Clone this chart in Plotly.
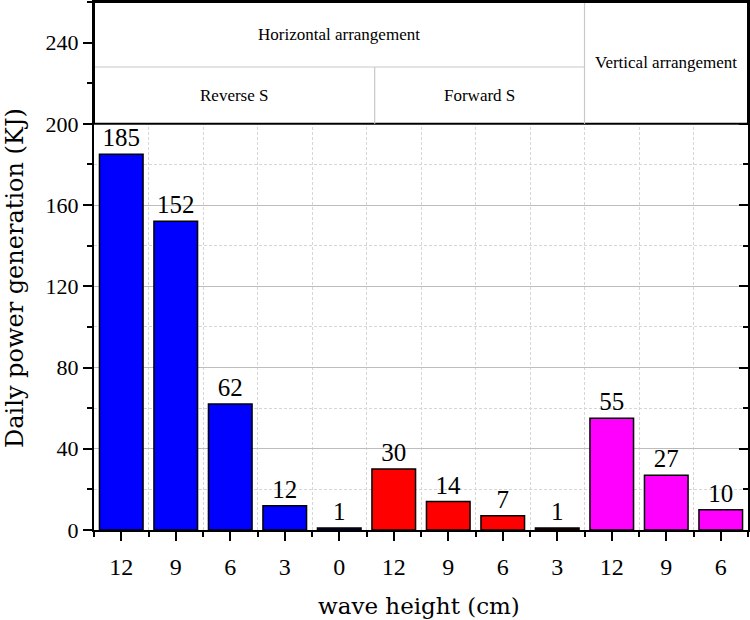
import plotly.graph_objects as go

# ---- data ----
wave_heights = ["12", "9", "6", "3", "0", "12", "9", "6", "3", "12", "9", "6"]
daily_power = [185, 152, 62, 12, 1, 30, 14, 7, 1, 55, 27, 10]
groups = ["Reverse S"] * 5 + ["Forward S"] * 4 + ["Vertical"] * 3
group_colors = {"Reverse S": "#0000FF", "Forward S": "#FF0000", "Vertical": "#FF00FF"}
y_ticks = [0, 40, 80, 120, 160, 200, 240]

positions = list(range(len(wave_heights)))
bar_colors = [group_colors[g] for g in groups]
bar_colors[4] = "#000066"
bar_colors[8] = "#330000"

SERIF = "Liberation Serif"
TITLE_FONT = "DejaVu Serif"
MINOR_DASH = "3px,2px"

fig = go.Figure()
fig.add_trace(go.Bar(
    x=positions, y=daily_power, width=0.8,
    marker=dict(color=bar_colors, line=dict(color="black", width=1.5)),
    text=[str(v) for v in daily_power], textposition="outside",
    textfont=dict(family=SERIF, size=25, color="black"),
    cliponaxis=False, showlegend=False,
))
# invisible trace for right axis
fig.add_trace(go.Scatter(x=[positions[0]], y=[0], yaxis="y2", mode="markers",
                         marker=dict(opacity=0), showlegend=False, hoverinfo="skip"))

YTOP = 260
fig.update_layout(
    width=750, height=620,
    margin=dict(l=94, r=2, t=2, b=90),
    plot_bgcolor="white", paper_bgcolor="white",
    bargap=0.2,
    xaxis=dict(
        automargin=False,
        range=[-0.5, len(positions) - 0.5],
        tickmode="array", tickvals=positions, ticktext=wave_heights,
        ticks="outside", ticklen=9, tickwidth=2, tickcolor="black",
        showgrid=False, zeroline=False,
        showline=True, linecolor="black", linewidth=2, mirror=True,
        tickfont=dict(family=SERIF, size=24, color="black"),
        ticklabelstandoff=5,
        minor=dict(tick0=-0.5, dtick=1, ticks="outside", ticklen=5, tickwidth=2,
                   tickcolor="black", showgrid=True, gridcolor="#D6D6D6",
                   griddash=MINOR_DASH, gridwidth=1),
    ),
    yaxis=dict(
        automargin=False,
        range=[0, YTOP],
        tickmode="array", tickvals=y_ticks,
        ticks="outside", ticklen=9, tickwidth=2, tickcolor="black",
        showgrid=True, gridcolor="#BDBDBD", gridwidth=1.2,
        zeroline=False,
        showline=True, linecolor="black", linewidth=2,
        tickfont=dict(family=SERIF, size=22, color="black"),
        minor=dict(tick0=0, dtick=20, ticks="outside", ticklen=5, tickwidth=2,
                   tickcolor="black", showgrid=True, gridcolor="#D6D6D6",
                   griddash=MINOR_DASH, gridwidth=1),
    ),
    yaxis2=dict(
        automargin=False,
        overlaying="y", side="right", range=[0, YTOP],
        tickmode="array", tickvals=y_ticks,
        ticks="inside", ticklen=9, tickwidth=2, tickcolor="black",
        showticklabels=False, showgrid=False, zeroline=False,
        showline=True, linecolor="black", linewidth=2,
        minor=dict(tick0=0, dtick=20, ticks="inside", ticklen=5, tickwidth=2, tickcolor="black"),
    ),
)

# ---- header table ----
x0, x1 = -0.5, len(positions) - 0.5
split_h = 8.5      # horizontal vs vertical
split_rf = 4.65    # reverse vs forward
ysub = 228
shapes = [
    dict(type="rect", xref="x", yref="y", x0=x0, x1=x1, y0=200, y1=YTOP,
         fillcolor="white", line=dict(width=0), layer="above"),
    dict(type="line", xref="x", yref="y", x0=x0, x1=x1, y0=200, y1=200,
         line=dict(color="black", width=2), layer="above"),
    dict(type="line", xref="x", yref="y", x0=x0, x1=split_h, y0=ysub, y1=ysub,
         line=dict(color="#C8C8C8", width=1.2), layer="above"),
    dict(type="line", xref="x", yref="y", x0=split_h, x1=split_h, y0=200, y1=YTOP,
         line=dict(color="#C8C8C8", width=1.2), layer="above"),
    dict(type="line", xref="x", yref="y", x0=split_rf, x1=split_rf, y0=200, y1=ysub,
         line=dict(color="#C8C8C8", width=1.2), layer="above"),
    dict(type="line", xref="x", yref="y", x0=x0, x1=x1, y0=YTOP, y1=YTOP,
         line=dict(color="black", width=2), layer="above"),
    dict(type="line", xref="x", yref="y", x0=x1, x1=x1, y0=200, y1=YTOP,
         line=dict(color="black", width=2), layer="above"),
    dict(type="line", xref="x", yref="y", x0=x0, x1=x0, y0=200, y1=YTOP,
         line=dict(color="black", width=2), layer="above"),
]
fig.update_layout(shapes=shapes)

hdr_font = dict(family=SERIF, size=17, color="black")
annotations = [
    dict(x=(x0 + split_h) / 2, y=(ysub + YTOP) / 2, text="Horizontal arrangement"),
    dict(x=(x0 + split_rf) / 2, y=(200 + ysub) / 2, text="Reverse S"),
    dict(x=(split_rf + split_h) / 2, y=(200 + ysub) / 2, text="Forward S"),
    dict(x=(split_h + x1) / 2, y=(200 + YTOP) / 2, text="Vertical arrangement"),
]
for a in annotations:
    a.update(xref="x", yref="y", showarrow=False, font=hdr_font)

annotations += [
    dict(xref="paper", yref="paper", x=(15 - 94) / 654, y=(530 - 278) / 528,
         text="Daily power generation (KJ)", textangle=-90, showarrow=False,
         xanchor="center", yanchor="middle",
         font=dict(family=TITLE_FONT, size=24, color="black")),
    dict(xref="paper", yref="paper", x=(419 - 94) / 654, y=(530 - 606) / 528,
         text="wave height (cm)", showarrow=False,
         xanchor="center", yanchor="middle",
         font=dict(family=TITLE_FONT, size=23, color="black")),
]
fig.update_layout(annotations=annotations)

fig.write_html("out.html", config={"displayModeBar": False},
               post_script="document.body.style.margin='0px';")
